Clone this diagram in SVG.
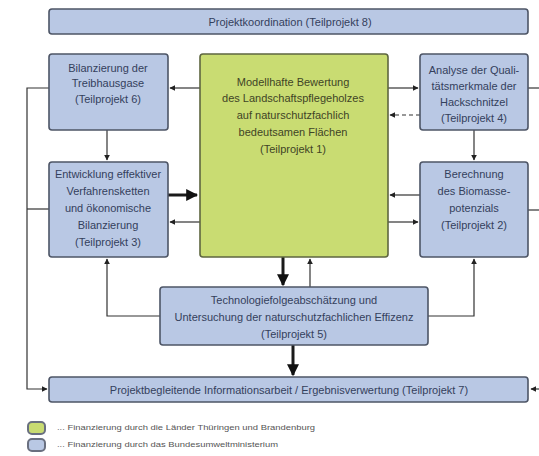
<svg xmlns="http://www.w3.org/2000/svg" width="539" height="456" viewBox="0 0 539 456">
<style>
.b{fill:#b9c8e4;stroke:#4d5566;stroke-width:1.6}
.g{fill:#c9dc72;stroke:#5e6640;stroke-width:1.6}
.t{font-family:"Liberation Sans",Arial,sans-serif;font-size:11px;fill:#34405c;text-anchor:middle}
.tg{font-family:"Liberation Sans",Arial,sans-serif;font-size:11px;fill:#3f4426;text-anchor:middle}
.l{fill:none;stroke:#333;stroke-width:1.2}
.k{fill:none;stroke:#1a1a1a;stroke-width:3}
.lg{font-family:"Liberation Sans",Arial,sans-serif;font-size:8px;fill:#555}
</style>
<defs>
<marker id="a" viewBox="0 0 10 10" refX="9" refY="5" markerWidth="6" markerHeight="6" markerUnits="userSpaceOnUse" orient="auto"><path d="M0,0 L10,5 L0,10 z" fill="#222"/></marker>
<marker id="A" viewBox="0 0 10 10" refX="9" refY="5" markerWidth="4" markerHeight="4" orient="auto"><path d="M0,0 L10,5 L0,10 z" fill="#111"/></marker>
</defs>
<rect width="539" height="456" fill="#fff"/>
<g id="connectors">
<path class="l" d="M49,88 H27 V389 H47" marker-end="url(#a)"/>
<path class="l" d="M27,209 H49"/>
<path class="l" d="M528,88 H539"/>
<path class="l" d="M528,210 H539"/>
<path class="l" d="M539,389 H531" marker-end="url(#a)"/>
<path class="l" d="M200,88 H170" marker-end="url(#a)"/>
<path class="l" d="M107,130 V160" marker-end="url(#a)"/>
<path class="l" d="M388,88 H418" marker-end="url(#a)"/>
<path class="l" d="M420,115 H390" stroke-dasharray="4,3" marker-end="url(#a)"/>
<path class="l" d="M474,130 V160" marker-end="url(#a)"/>
<path class="k" d="M168,195 H197" marker-end="url(#A)"/>
<path class="l" d="M200,222 H170" marker-end="url(#a)"/>
<path class="l" d="M420,195 H390" marker-end="url(#a)"/>
<path class="l" d="M388,222 H418" marker-end="url(#a)"/>
<path class="k" d="M283,257 V285" marker-end="url(#A)"/>
<path class="l" d="M310,287 V259" marker-end="url(#a)"/>
<path class="l" d="M160,316 H107 V259" marker-end="url(#a)"/>
<path class="l" d="M428,316 H474 V259" marker-end="url(#a)"/>
<path class="k" d="M293,345 V375" marker-end="url(#A)"/>
</g>
<g id="tp8"><rect class="b" x="49" y="9" width="479" height="25" rx="3"/><text class="t" x="290" y="25.5">Projektkoordination (Teilprojekt 8)</text></g>
<g id="tp6"><rect class="b" x="49" y="54" width="119" height="76" rx="3"/>
<text class="t" x="108" y="72">Bilanzierung der</text><text class="t" x="108" y="87">Treibhausgase</text><text class="t" x="108" y="103">(Teilprojekt 6)</text></g>
<g id="tp1"><rect class="g" x="200" y="54" width="188" height="203" rx="3"/>
<text class="tg" x="293" y="86">Modellhafte Bewertung</text><text class="tg" x="293" y="102">des Landschaftspflegeholzes</text><text class="tg" x="293" y="119">auf naturschutzfachlich</text><text class="tg" x="293" y="136">bedeutsamen Flächen</text><text class="tg" x="293" y="153">(Teilprojekt 1)</text></g>
<g id="tp4"><rect class="b" x="420" y="54" width="108" height="76" rx="3"/>
<text class="t" x="474" y="74">Analyse der Quali-</text><text class="t" x="474" y="90">tätsmerkmale der</text><text class="t" x="474" y="106">Hackschnitzel</text><text class="t" x="474" y="122">(Teilprojekt 4)</text></g>
<g id="tp3"><rect class="b" x="49" y="162" width="119" height="95" rx="3"/>
<text class="t" x="108" y="178">Entwicklung effektiver</text><text class="t" x="108" y="195">Verfahrensketten</text><text class="t" x="108" y="212">und ökonomische</text><text class="t" x="108" y="229">Bilanzierung</text><text class="t" x="108" y="246">(Teilprojekt 3)</text></g>
<g id="tp2"><rect class="b" x="420" y="162" width="108" height="95" rx="3"/>
<text class="t" x="474" y="178">Berechnung</text><text class="t" x="474" y="195">des Biomasse-</text><text class="t" x="474" y="212">potenzials</text><text class="t" x="474" y="229">(Teilprojekt 2)</text></g>
<g id="tp5"><rect class="b" x="160" y="287" width="268" height="58" rx="3"/>
<text class="t" x="294" y="304">Technologiefolgeabschätzung und</text><text class="t" x="294" y="321">Untersuchung der naturschutzfachlichen Effizenz</text><text class="t" x="294" y="338">(Teilprojekt 5)</text></g>
<g id="tp7"><rect class="b" x="49" y="377" width="479" height="25" rx="3"/><text class="t" x="289" y="393.5">Projektbegleitende Informationsarbeit / Ergebnisverwertung (Teilprojekt 7)</text></g>
<g id="legend">
<rect x="28" y="422" width="17" height="12" rx="4" fill="#c9dc72" stroke="#6a7080" stroke-width="2"/>
<rect x="28" y="439" width="17" height="12" rx="4" fill="#b9c8e4" stroke="#6a7080" stroke-width="2"/>
<text class="lg" x="57" y="430" textLength="258" lengthAdjust="spacingAndGlyphs">... Finanzierung durch die Länder Thüringen und Brandenburg</text>
<text class="lg" x="57" y="447" textLength="221" lengthAdjust="spacingAndGlyphs">... Finanzierung durch das Bundesumweltministerium</text>
</g>
</svg>
